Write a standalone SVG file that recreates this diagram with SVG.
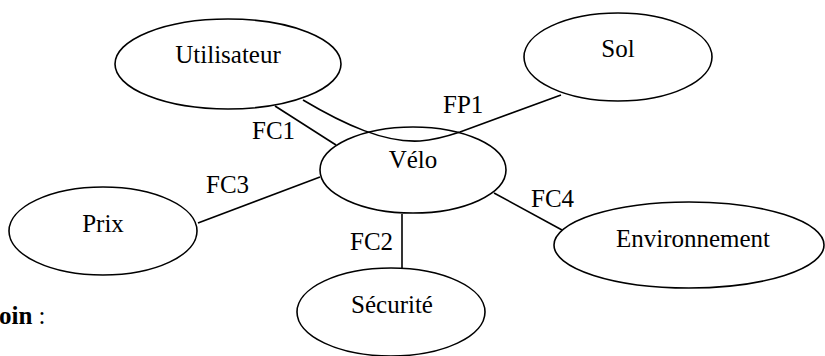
<svg xmlns="http://www.w3.org/2000/svg" width="825" height="356" viewBox="0 0 825 356">
<style>
.n{fill:#fff;stroke:#000;stroke-width:1.6}
.c{fill:none;stroke:#000;stroke-width:1.6}
.t{font-family:'Liberation Serif','DejaVu Serif','Noto Serif','Times New Roman',Times,serif;font-size:25px;fill:#000}
.m{text-anchor:middle}
</style>
<rect width="825" height="356" fill="#fff"/>
<g id="connectors">
<line class="c" x1="275" y1="106" x2="336" y2="145"/>
<path class="c" d="M303,100 C345,125 385,143 420,141 C435,140 445,137 460,132 L561,95"/>
<line class="c" x1="198" y1="223" x2="320" y2="177"/>
<line class="c" x1="402" y1="214" x2="402" y2="268"/>
<line class="c" x1="494" y1="193" x2="562" y2="230"/>
<g class="t">
<text x="252" y="139">FC1</text>
<text x="443" y="113">FP1</text>
<text x="206" y="193">FC3</text>
<text x="350" y="250">FC2</text>
<text x="531" y="207">FC4</text>
</g>
</g>
<g class="t">
<g id="utilisateur"><ellipse class="n" cx="228" cy="64" rx="113" ry="45" style="fill:none"/><text class="m" x="228" y="63">Utilisateur</text></g>
<g id="sol"><ellipse class="n" cx="618" cy="57" rx="94" ry="44"/><text class="m" x="618" y="57">Sol</text></g>
<g id="velo"><ellipse class="n" cx="413" cy="170" rx="93" ry="43" style="fill:none"/><text class="m" x="413" y="168">Vélo</text></g>
<g id="prix"><ellipse class="n" cx="103" cy="231" rx="94" ry="44"/><text class="m" x="103" y="232">Prix</text></g>
<g id="securite"><ellipse class="n" cx="391" cy="312" rx="94" ry="44"/><text class="m" x="392" y="313">Sécurité</text></g>
<g id="environnement"><ellipse class="n" cx="689" cy="245" rx="135" ry="43"/><text class="m" x="693" y="247">Environnement</text></g>
<text x="-1" y="324"><tspan font-weight="bold">oin</tspan> :</text>
</g>
</svg>
